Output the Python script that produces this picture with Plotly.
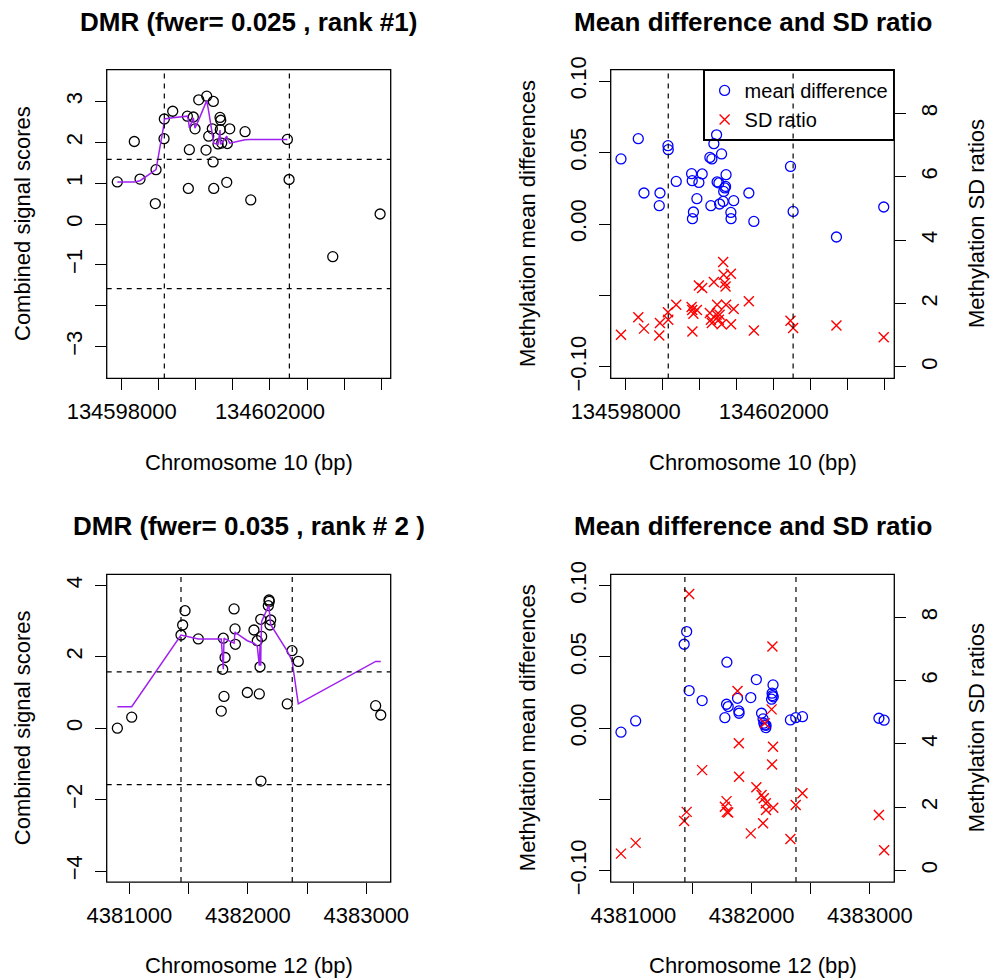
import plotly.graph_objects as go

W, H = 991, 979
FONT = "Liberation Sans, Arial, Helvetica, sans-serif"

# ---------------- data: chromosome 10 region ----------------
pos10_score = [134597881, 134598340, 134598494, 134598907, 134598926, 134599142, 134599150,
               134599376, 134599771, 134599798, 134599825, 134599932, 134599978, 134600078,
               134600275, 134600294, 134600348, 134600445, 134600466, 134600472, 134600483,
               134600599, 134600653, 134600660, 134600672, 134600699, 134600834, 134600850,
               134600915, 134601328, 134601482, 134602470, 134602516, 134603695, 134604972]
score10 = [1.03, 2.02, 1.10, 0.50, 1.33, 2.09, 2.57,
           2.76, 2.64, 0.87, 1.82, 2.62, 2.33, 3.04,
           1.81, 3.13, 2.15, 2.33, 1.52, 3.00, 0.87,
           1.96, 2.61, 2.31, 2.54, 1.98, 1.02, 1.97,
           2.33, 2.26, 0.59, 2.07, 1.09, -0.80, 0.245]
smooth10 = [1.03, 1.03, 1.06, 1.30, 1.33, 2.45, 2.57,
            2.60, 2.64, 2.55, 2.35, 2.60, 2.35, 2.55,
            2.94, 3.02, 2.75, 2.25, 2.10, 2.05, 1.98,
            1.95, 2.30, 2.00, 1.95, 1.98, 2.15, 2.10,
            1.98, 2.06, 2.07, 2.07, None, None, None]

pos10 = [134597873, 134598340, 134598494, 134598907, 134598926, 134599142, 134599150,
         134599366, 134599781, 134599798, 134599803, 134599830, 134599924, 134599978,
         134600067, 134600275, 134600302, 134600329, 134600383, 134600456, 134600470,
         134600518, 134600537, 134600591, 134600634, 134600648, 134600680, 134600699,
         134600712, 134600842, 134600847, 134600918, 134601328, 134601463, 134602453,
         134602524, 134603695, 134604972]
meandiff10 = [0.0455, 0.0597, 0.0217, 0.0128, 0.0217, 0.0548, 0.0520,
              0.0298, 0.0352, 0.0303, 0.0037, 0.0084, 0.0177, 0.0291,
              0.0350, 0.0466, 0.0128, 0.0455, 0.0562, 0.0624, 0.0294,
              0.0287, 0.0140, 0.0490, 0.0158, 0.0228, 0.0252, 0.0263,
              0.0345, 0.0081, 0.0037, 0.0163, 0.0217, 0.0018, 0.0403,
              0.0088, -0.0091, 0.0119]
sdratio10 = [1.02, 1.57, 1.21, 0.99, 1.39, 1.73, 1.49,
             1.96, 1.89, 1.80, 1.12, 1.68, 1.80, 2.57,
             2.49, 1.70, 1.49, 1.39, 2.68, 1.65, 1.96,
             1.49, 1.65, 1.35, 3.31, 2.91, 2.65, 2.54,
             1.96, 2.94, 1.35, 1.83, 2.07, 1.15, 1.46,
             1.23, 1.31, 0.94]
dmr10 = [134599150, 134602524]

# ---------------- data: chromosome 12 region ----------------
pos12_score = [4380899, 4381020, 4381436, 4381450, 4381470, 4381582, 4381776, 4381788,
               4381793, 4381799, 4381808, 4381884, 4381892, 4381895, 4381996, 4382052,
               4382080, 4382097, 4382103, 4382109, 4382111, 4382117, 4382173, 4382179,
               4382181, 4382187, 4382193, 4382333, 4382373, 4382426, 4383079, 4383122]
score12 = [0.00, 0.31, 2.61, 2.89, 3.29, 2.50, 0.48, 1.65,
           2.52, 0.89, 1.98, 3.34, 2.78, 2.35, 1.00, 2.75,
           2.45, 0.96, 1.72, 3.05, -1.48, 2.57, 3.43, 3.59,
           3.55, 2.89, 3.03, 0.68, 2.17, 1.87, 0.63, 0.37]
smooth12 = [0.60, 0.60, 2.61, 2.60, 2.58, 2.50, 2.50, 1.65,
            1.65, 2.52, 2.50, 2.38, 2.70, 2.68, 2.45, 2.38,
            2.30, 1.75, 2.30, 1.75, 2.40, 2.99, 3.41, 3.41,
            3.30, 2.90, 2.90, 2.16, 1.90, 0.68, 1.87, 1.87]

pos12 = [4380896, 4381020, 4381430, 4381451, 4381472, 4381582, 4381774, 4381788,
         4381791, 4381802, 4381881, 4381892, 4381894, 4381993, 4382040, 4382084,
         4382097, 4382103, 4382111, 4382120, 4382122, 4382169, 4382173, 4382176,
         4382181, 4382183, 4382328, 4382373, 4382430, 4383076, 4383120]
meandiff12 = [-0.0028, 0.0051, 0.0589, 0.0678, 0.0264, 0.0194, 0.0074, 0.0168,
              0.0463, 0.0152, 0.0210, 0.0121, 0.0105, 0.0215, 0.0341, 0.0105,
              0.0065, 0.0035, 0.0023, 0.0004, 0.0020, 0.0204, 0.0246, 0.0229,
              0.0304, 0.0220, 0.0058, 0.0074, 0.0081, 0.0070, 0.0056]
sdratio12 = [0.53, 0.87, 1.56, 1.85, 8.74, 3.17, 2.01, 2.19,
             1.85, 1.83, 5.67, 4.02, 2.96, 1.17, 2.63, 2.38,
             1.49, 2.28, 4.65, 2.12, 1.91, 5.09, 3.35, 7.08,
             3.91, 1.98, 0.99, 2.07, 2.44, 1.75, 0.64]
dmr12 = [4381436, 4382375]

threshold = 1.58

# ---------------- tick labels ----------------
ticks10 = [134598000, 134599000, 134600000, 134601000, 134602000, 134603000, 134604000, 134605000]
labels10 = ["134598000", "", "", "", "134602000", "", "", ""]
ticks12 = [4381000, 4381500, 4382000, 4382500, 4383000]
labels12 = ["4381000", "", "4382000", "", "4383000"]
score_ticks_a = [-3, -2, -1, 0, 1, 2, 3]
score_labels_a = ["\u22123", "", "\u22121", "0", "1", "2", "3"]
score_ticks_c = [-4, -2, 0, 2, 4]
score_labels_c = ["\u22124", "\u22122", "0", "2", "4"]
md_ticks = [-0.10, -0.05, 0.00, 0.05, 0.10]
md_labels = ["\u22120.10", "", "0.00", "0.05", "0.10"]
sd_ticks = [0, 2, 4, 6, 8]
sd_labels = ["0", "2", "4", "6", "8"]

# ---------------- layout geometry (pixels) ----------------
LX = (106.7, 390.7)
RX = (610.7, 894.3)
TY = (69.6, 378.4)
BY = (574.3, 882.1)


def dx(p):
    return [p[0] / W, p[1] / W]


def dy(p):
    return [1 - p[1] / H, 1 - p[0] / H]


PURPLE = "#A020F0"
fig = go.Figure()

circ_black = dict(symbol="circle-open", size=10, color="black", line=dict(width=1.3, color="black"))
circ_blue = dict(symbol="circle-open", size=10, color="#0000FF", line=dict(width=1.3, color="#0000FF"))
cross_red = dict(symbol="x-thin-open", size=10, color="#FF0000", line=dict(width=1.4, color="#FF0000"))

# Panel A
fig.add_trace(go.Scatter(x=pos10_score, y=score10, mode="markers", marker=circ_black,
                         xaxis="x", yaxis="y", showlegend=False))
fig.add_trace(go.Scatter(x=pos10_score, y=smooth10, mode="lines", line=dict(color=PURPLE, width=1.5),
                         connectgaps=False, xaxis="x", yaxis="y", showlegend=False))
# Panel B
fig.add_trace(go.Scatter(x=pos10, y=meandiff10, mode="markers", marker=circ_blue, name="mean difference",
                         xaxis="x2", yaxis="y2", showlegend=True))
fig.add_trace(go.Scatter(x=pos10, y=sdratio10, mode="markers", marker=cross_red, name="SD ratio",
                         xaxis="x2", yaxis="y5", showlegend=True))
# Panel C
fig.add_trace(go.Scatter(x=pos12_score, y=score12, mode="markers", marker=circ_black,
                         xaxis="x3", yaxis="y3", showlegend=False))
fig.add_trace(go.Scatter(x=pos12_score, y=smooth12, mode="lines", line=dict(color=PURPLE, width=1.5),
                         connectgaps=False, xaxis="x3", yaxis="y3", showlegend=False))
# Panel D
fig.add_trace(go.Scatter(x=pos12, y=meandiff12, mode="markers", marker=circ_blue,
                         xaxis="x4", yaxis="y4", showlegend=False))
fig.add_trace(go.Scatter(x=pos12, y=sdratio12, mode="markers", marker=cross_red,
                         xaxis="x4", yaxis="y6", showlegend=False))

tickfont = dict(family=FONT, size=22, color="black")
base = dict(showgrid=False, zeroline=False, showline=False, ticks="outside", ticklen=11,
            tickwidth=1.3, tickcolor="black", tickfont=tickfont, tickmode="array",
            automargin=False)
xbase = dict(base, ticklabelstandoff=2)
ybase = dict(base, ticklabelstandoff=4, tickangle=-90)

r10 = [134597595, 134605258]
r12 = [4380809, 4383206]

fig.update_layout(
    width=W, height=H,
    margin=dict(l=0, r=0, t=0, b=0, pad=0, autoexpand=False),
    paper_bgcolor="white", plot_bgcolor="white",
    xaxis=dict(xbase, domain=dx(LX), anchor="y", range=r10, tickvals=ticks10, ticktext=labels10),
    xaxis2=dict(xbase, domain=dx(RX), anchor="y2", range=r10, tickvals=ticks10, ticktext=labels10),
    xaxis3=dict(xbase, domain=dx(LX), anchor="y3", range=r12, tickvals=ticks12, ticktext=labels12),
    xaxis4=dict(xbase, domain=dx(RX), anchor="y4", range=r12, tickvals=ticks12, ticktext=labels12),
    yaxis=dict(ybase, domain=dy(TY), anchor="x", range=[-3.78, 3.78], tickvals=score_ticks_a,
               ticktext=score_labels_a),
    yaxis2=dict(ybase, domain=dy(TY), anchor="x2", range=[-0.108, 0.108], tickvals=md_ticks,
                ticktext=md_labels),
    yaxis3=dict(ybase, domain=dy(BY), anchor="x3", range=[-4.31, 4.31], tickvals=score_ticks_c,
                ticktext=score_labels_c),
    yaxis4=dict(ybase, domain=dy(BY), anchor="x4", range=[-0.108, 0.108], tickvals=md_ticks,
                ticktext=md_labels),
    yaxis5=dict(ybase, overlaying="y2", side="right", anchor="x2", range=[-0.36, 9.38],
                tickvals=sd_ticks, ticktext=sd_labels),
    yaxis6=dict(ybase, overlaying="y4", side="right", anchor="x4", range=[-0.37, 9.36],
                tickvals=sd_ticks, ticktext=sd_labels),
    legend=dict(x=RX[1] / W, xanchor="right", y=1 - TY[0] / H, yanchor="top",
                bordercolor="black", borderwidth=1.3, bgcolor="rgba(0,0,0,0)",
                font=dict(family=FONT, size=20, color="black"), tracegroupgap=0, itemwidth=30),
)

shapes = []
dash = dict(color="black", width=1.2, dash="5px,5px")
for xa, ya in [("x", "y"), ("x2", "y2"), ("x3", "y3"), ("x4", "y4")]:
    shapes.append(dict(type="rect", xref=xa + " domain", yref=ya + " domain", x0=0, x1=1, y0=0, y1=1,
                       line=dict(color="black", width=1.3), fillcolor="rgba(0,0,0,0)"))
for xa, ya, dmr in [("x", "y", dmr10), ("x2", "y2", dmr10), ("x3", "y3", dmr12), ("x4", "y4", dmr12)]:
    for b in dmr:
        shapes.append(dict(type="line", xref=xa, yref=ya + " domain", x0=b, x1=b, y0=0, y1=1, line=dash))
for xa, ya in [("x", "y"), ("x3", "y3")]:
    for t in (threshold, -threshold):
        shapes.append(dict(type="line", xref=xa + " domain", yref=ya, x0=0, x1=1, y0=t, y1=t, line=dash))
fig.update_layout(shapes=shapes)

ann = []


def add_text(text, px, py, size=22, angle=0, bold=False):
    ann.append(dict(text=("<b>%s</b>" % text) if bold else text, x=px / W, y=1 - py / H,
                    xref="paper", yref="paper", xanchor="center", yanchor="middle", showarrow=False,
                    textangle=angle, font=dict(family=FONT, size=size, color="black")))


lc = (LX[0] + LX[1]) / 2
rc = (RX[0] + RX[1]) / 2
tc = (TY[0] + TY[1]) / 2
bc = (BY[0] + BY[1]) / 2
add_text("DMR (fwer= 0.025 , rank #1)", lc, 22, 26, bold=True)
add_text("Mean difference and SD ratio", rc, 22, 26, bold=True)
add_text("DMR (fwer= 0.035 , rank # 2 )", lc, 526, 26, bold=True)
add_text("Mean difference and SD ratio", rc, 526, 26, bold=True)
add_text("Chromosome 10 (bp)", lc, 463)
add_text("Chromosome 10 (bp)", rc, 463)
add_text("Chromosome 12 (bp)", lc, 965)
add_text("Chromosome 12 (bp)", rc, 965)
for c in (tc, bc):
    add_text("Combined signal scores", 22, c, angle=-90)
    add_text("Methylation mean differences", 527, c, angle=-90)
    add_text("Methylation SD ratios", 976, c, angle=-90)
fig.update_layout(annotations=ann)

fig.write_html("out.html", config={"displayModeBar": False},
               post_script="document.body.style.margin='0';document.body.style.overflow='hidden';")
